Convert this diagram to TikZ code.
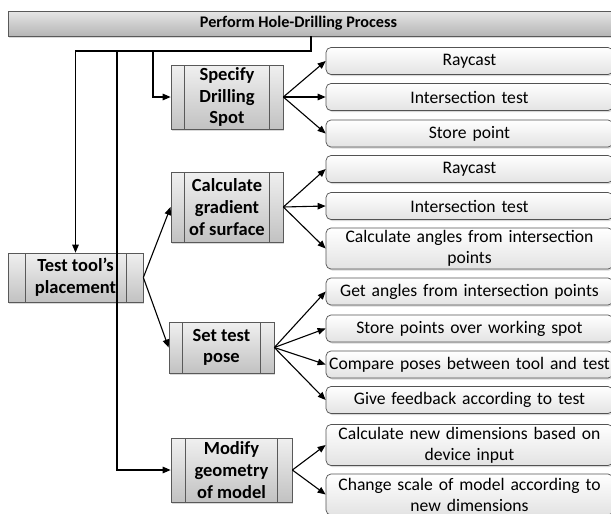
\documentclass[tikz,border=0pt]{standalone}
\usepackage{fontspec}
\setmainfont{Carlito}
\usetikzlibrary{arrows.meta,shadows}
\begin{document}
\begin{tikzpicture}[x=1pt,y=-1pt,
  conn/.style={line width=1.1pt, black},
  arr/.style={conn, -{Triangle[length=8pt,width=6.5pt]}},
  softshadow/.style={drop shadow={opacity=0.3, shadow xshift=1.2pt, shadow yshift=-1.5pt}},
  topbar/.style={draw=gray!70!black, line width=0.7pt, top color=gray!20, bottom color=gray!58,
    minimum height=25pt, inner sep=0pt, softshadow},
  procbox/.style={draw=gray!70!black, line width=0.7pt, top color=gray!12, bottom color=gray!48,
    font=\bfseries\fontsize{18.5}{21.7}\selectfont, align=center, inner sep=0pt, softshadow,
    path picture={
      \draw[gray!70!black, line width=0.7pt]
        ([xshift=#1]path picture bounding box.north west) -- ([xshift=#1]path picture bounding box.south west)
        ([xshift=-#1]path picture bounding box.north east) -- ([xshift=-#1]path picture bounding box.south east);
    }},
  taskbox/.style={draw=gray!65!black, line width=0.7pt, rounded corners=5pt, top color=white, bottom color=gray!22,
    minimum width=287pt, text width=283pt, align=center, inner sep=0pt, softshadow,
    font=\fontsize{17.6}{21}\selectfont},
  one/.style={minimum height=27pt},
  two/.style={minimum height=41pt}
]
\useasboundingbox (0,0) rectangle (611,514);

% heading bar
\node[topbar, minimum width=612pt] (bar) at (314,23.5) {};
\node[font=\bfseries\fontsize{16.2}{19}\selectfont, inner sep=0pt] (barlabel) at (298.5,23.5) {Perform Hole-Drilling Process};

% sub-processes
\node[procbox=17pt, minimum width=135pt, minimum height=49pt] (test) at (75.5,277.5) {Test tool’s\\placement};
\node[procbox=13.5pt, minimum width=112pt, minimum height=64pt] (spec) at (227,97) {Specify\\Drilling\\Spot};
\node[procbox=13.5pt, minimum width=112pt, minimum height=70pt] (grad) at (227,207) {Calculate\\gradient\\of surface};
\node[procbox=13.5pt, minimum width=105pt, minimum height=51pt] (pose) at (221.5,347.5) {Set test\\pose};
\node[procbox=14.5pt, minimum width=121pt, minimum height=64pt] (geom) at (231.5,470) {Modify\\geometry\\of model};

% tasks
\node[taskbox, one] (t1) at (469.5,61) {Raycast};
\node[taskbox, one] (t2) at (469.5,97) {Intersection test};
\node[taskbox, one] (t3) at (469.5,133.5) {Store point};
\node[taskbox, one] (t4) at (469.5,169) {Raycast};
\node[taskbox, one] (t5) at (469.5,206) {Intersection test};
\node[taskbox, two] (t6) at (469.5,248.5) {Calculate angles from intersection\\points};
\node[taskbox, one] (t7) at (469.5,291.5) {Get angles from intersection points};
\node[taskbox, one] (t8) at (469.5,328.5) {Store points over working spot};
\node[taskbox, one] (t9) at (469.5,364.5) {Compare poses between tool and test};
\node[taskbox, one] (t10) at (469.5,400) {Give feedback according to test};
\node[taskbox, two] (t11) at (469.5,445) {Calculate new dimensions based on\\device input};
\node[taskbox, two] (t12) at (469.5,494.5) {Change scale of model according to\\new dimensions};

% tree from the heading
\coordinate (drop) at (311,51);
\coordinate (railA) at (117,51);
\coordinate (railB) at (153,51);
\draw[arr] (bar.south -| drop) -- (drop) -| (test.north);
\draw[arr] (railA) |- (geom.west);
\draw[arr] (railB) |- (spec.west);

% fans
\draw[arr] (test.east) -- (grad.west);
\draw[arr] (test.east) -- (pose.west);
\foreach \t in {t1,t2,t3} \draw[arr] (spec.east) -- (\t.west);
\foreach \t in {t4,t5,t6} \draw[arr] (grad.east) -- (\t.west);
\foreach \t in {t7,t8,t9,t10} \draw[arr] (pose.east) -- (\t.west);
\foreach \t in {t11,t12} \draw[arr] (geom.east) -- (\t.west);
\end{tikzpicture}
\end{document}
